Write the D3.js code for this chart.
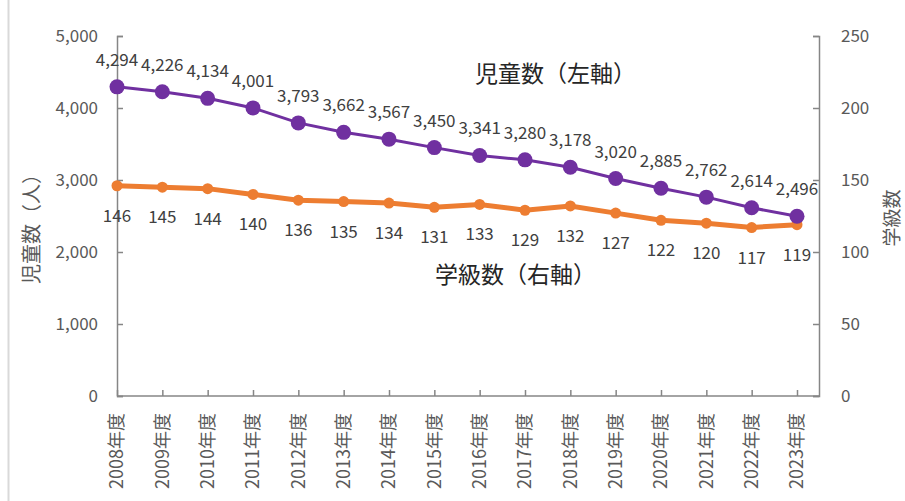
<!DOCTYPE html>
<html>
<head>
<meta charset="utf-8">
<script src="https://cdn.jsdelivr.net/npm/d3@7"></script>
<style>
  body { margin: 0; background: #fff; }
  svg { display: block; font-family: "Noto Sans CJK JP", "Noto Sans", sans-serif; }
</style>
</head>
<body>
<div id="chart"></div>
<script>
// data
var years = ["2008年度", "2009年度", "2010年度", "2011年度", "2012年度", "2013年度", "2014年度", "2015年度",
	"2016年度", "2017年度", "2018年度", "2019年度", "2020年度", "2021年度", "2022年度", "2023年度"];
var pupils = [4294, 4226, 4134, 4001, 3793, 3662, 3567, 3450, 3341, 3280, 3178, 3020, 2885, 2762, 2614, 2496];
var classes = [146, 145, 144, 140, 136, 135, 134, 131, 133, 129, 132, 127, 122, 120, 117, 119];
var leftTicks = [0, 1000, 2000, 3000, 4000, 5000];
var rightTicks = [0, 50, 100, 150, 200, 250];

var width = 905, height = 501;
var axisLeftX = 117, axisRightX = 819, plotTop = 36, plotBottom = 396;
var fmt = d3.format(",");

var svg = d3.select("#chart").append("svg")
	.attr("width", width)
	.attr("height", height);

// frame edge
svg.append("line")
	.attr("x1", 8.5).attr("x2", 8.5)
	.attr("y1", 0).attr("y2", height)
	.attr("stroke", "#d9d9d9")
	.attr("stroke-width", 2);

var x = d3.scalePoint().domain(years).range([axisLeftX, 797]);
var yL = d3.scaleLinear().domain([0, 5000]).range([plotBottom, plotTop]);
var yR = d3.scaleLinear().domain([0, 250]).range([plotBottom, plotTop]);

var axisColor = "#868686", labelColor = "#595959";

// left axis
var gL = svg.append("g").attr("transform", "translate(" + axisLeftX + ",0)")
	.call(d3.axisRight(yL).tickValues(leftTicks).tickSize(6).tickFormat(function () { return ""; }));
svg.append("g").selectAll("text")
	.data(leftTicks).enter().append("text")
	.attr("x", 98)
	.attr("y", function (d) { return yL(d); })
	.attr("dy", "0.35em")
	.attr("text-anchor", "end")
	.attr("fill", labelColor)
	.style("font-size", "17px")
	.text(fmt);

// right axis
var gR = svg.append("g").attr("transform", "translate(" + axisRightX + ",0)")
	.call(d3.axisLeft(yR).tickValues(rightTicks).tickSize(6).tickFormat(function () { return ""; }));
svg.append("g").selectAll("text")
	.data(rightTicks).enter().append("text")
	.attr("x", 841)
	.attr("y", function (d) { return yR(d); })
	.attr("dy", "0.35em")
	.attr("text-anchor", "start")
	.attr("fill", labelColor)
	.style("font-size", "17px")
	.text(function (d) { return d; });

// x axis
var gX = svg.append("g").attr("transform", "translate(0," + plotBottom + ")")
	.call(d3.axisTop(x).tickSize(6).tickFormat(function () { return ""; }));
gX.select(".domain").attr("d", "M" + axisLeftX + ",0H" + axisRightX);
svg.append("g").selectAll("text")
	.data(years).enter().append("text")
	.attr("transform", function (d) { return "translate(" + x(d) + ",413) rotate(-90)"; })
	.attr("dy", "0.35em")
	.attr("text-anchor", "end")
	.attr("fill", labelColor)
	.style("font-size", "18px")
	.text(function (d) { return d; });

[gL, gR, gX].forEach(function (g) {
	g.selectAll(".domain, line").attr("stroke", axisColor).attr("stroke-width", 1.5);
});

// axis titles
svg.append("text")
	.attr("transform", "translate(32,224) rotate(-90)")
	.attr("text-anchor", "middle")
	.attr("dy", "0.35em")
	.attr("fill", labelColor)
	.style("font-size", "20px")
	.text("児童数（人）");
svg.append("text")
	.attr("transform", "translate(892,218) rotate(-90)")
	.attr("text-anchor", "middle")
	.attr("dy", "0.35em")
	.attr("fill", labelColor)
	.style("font-size", "19px")
	.text("学級数");

// series
var purple = "#7030a0", orange = "#ed7d31";

var lineL = d3.line().x(function (d, i) { return x(years[i]); }).y(function (d) { return yL(d); });
var lineR = d3.line().x(function (d, i) { return x(years[i]); }).y(function (d) { return yR(d); });

svg.append("path").datum(classes)
	.attr("d", lineR).attr("fill", "none")
	.attr("stroke", orange).attr("stroke-width", 5);
svg.append("g").selectAll("circle")
	.data(classes).enter().append("circle")
	.attr("cx", function (d, i) { return x(years[i]); })
	.attr("cy", function (d) { return yR(d); })
	.attr("r", 5.5)
	.attr("fill", orange);

svg.append("path").datum(pupils)
	.attr("d", lineL).attr("fill", "none")
	.attr("stroke", purple).attr("stroke-width", 3);
svg.append("g").selectAll("circle")
	.data(pupils).enter().append("circle")
	.attr("cx", function (d, i) { return x(years[i]); })
	.attr("cy", function (d) { return yL(d); })
	.attr("r", 7.5)
	.attr("fill", purple);

// data labels
svg.append("g").selectAll("text")
	.data(pupils).enter().append("text")
	.attr("x", function (d, i) { return x(years[i]); })
	.attr("y", function (d) { return yL(d) - 21; })
	.attr("text-anchor", "middle")
	.attr("fill", "#404040")
	.style("font-size", "17px")
	.text(fmt);
svg.append("g").selectAll("text")
	.data(classes).enter().append("text")
	.attr("x", function (d, i) { return x(years[i]); })
	.attr("y", function (d) { return yR(d) + 36; })
	.attr("text-anchor", "middle")
	.attr("fill", "#404040")
	.style("font-size", "17px")
	.text(function (d) { return d; });

// series annotations
svg.append("text")
	.attr("x", 475).attr("y", 82)
	.attr("fill", "#262626")
	.style("font-size", "23px")
	.text("児童数（左軸）");
svg.append("text")
	.attr("x", 435).attr("y", 283)
	.attr("fill", "#262626")
	.style("font-size", "23px")
	.text("学級数（右軸）");
</script>
</body>
</html>
